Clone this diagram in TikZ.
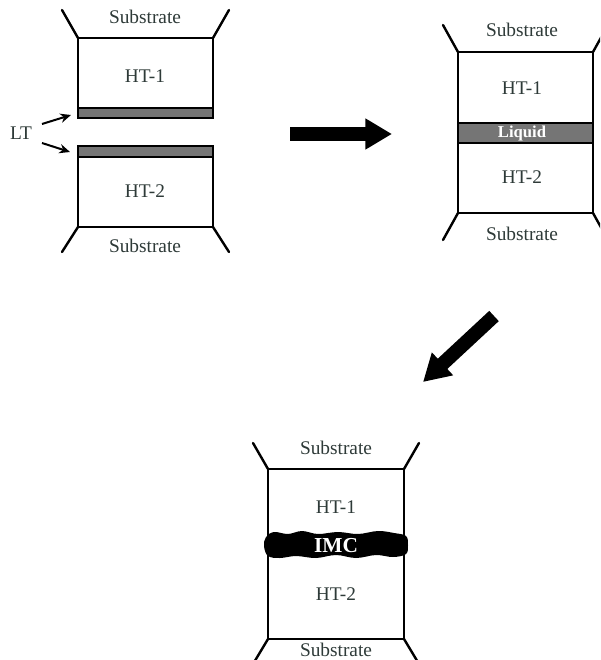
\documentclass[tikz,border=0pt]{standalone}
\usepackage{fontspec}
\setmainfont{Liberation Serif}
\usetikzlibrary{arrows.meta}
\definecolor{txt}{HTML}{2E3A38}
\definecolor{bargray}{HTML}{757575}
\begin{document}
\begin{tikzpicture}[x=0.75pt,y=-0.75pt,
  lbl/.style={font=\fontsize{14.5}{16}\selectfont, text=txt, inner sep=0pt},
  frame/.style={draw=black, line width=1.8pt},
  leg/.style={draw=black, line width=1.8pt, line cap=round},
  barfill/.style={fill=bargray, draw=black, line width=1.4pt},
  ltarrow/.style={draw=black, line width=1.5pt, -{Stealth[length=8pt,width=7pt]}},
  bigarrow/.style={draw=black, line width=10.5pt, -{Triangle[length=20pt,width=22pt]}}]
\clip (0,0) rectangle (600,660);
\fill[white] (0,0) rectangle (600,660);

% ---------- left diagram ----------
\draw[frame] (78,38) rectangle (213,108);
\draw[barfill] (78,108) rectangle (213,118);
\draw[frame] (78,157) rectangle (213,227);
\draw[barfill] (78,146) rectangle (213,157);
\coordinate (bar1) at (71,115);
\coordinate (bar2) at (70,152);
\draw[leg] (78,38) -- (62,10);
\draw[leg] (213,38) -- (229,10);
\draw[leg] (78,227) -- (62,252);
\draw[leg] (213,227) -- (229,252);
\node[lbl] (lsub1) at (145,17) {Substrate};
\node[lbl] (lht1) at (145,76) {HT-1};
\node[lbl] (lht2) at (145,191) {HT-2};
\node[lbl] (lsub2) at (145,246) {Substrate};
\node[lbl] (lt) at (21,133) {LT};
\coordinate (lta) at (42,124);
\coordinate (ltb) at (42,143);
\draw[ltarrow] (lta) -- (bar1);
\draw[ltarrow] (ltb) -- (bar2);

% ---------- right diagram ----------
\draw[frame] (458,52) rectangle (593,213);
\draw[barfill] (458,123) rectangle (593,143);
\draw[leg] (458,52) -- (443,25);
\draw[leg] (593,52) -- (608,25);
\draw[leg] (458,213) -- (443,240);
\draw[leg] (593,213) -- (608,240);
\node[lbl] (rsub1) at (522,30) {Substrate};
\node[lbl] (rht1) at (522,88) {HT-1};
\node[font=\fontsize{12.5}{14}\selectfont\bfseries, text=white, inner sep=0pt] (liq) at (522,133) {Liquid};
\node[lbl] (rht2) at (522,177) {HT-2};
\node[lbl] (rsub2) at (522,234) {Substrate};

% ---------- bottom diagram ----------
\draw[frame] (268,469) rectangle (404,639);
\draw[leg] (268,469) -- (253,443);
\draw[leg] (404,469) -- (419,443);
\draw[leg] (268,639) -- (253,664);
\draw[leg] (404,639) -- (419,664);
\fill[black] plot[smooth cycle, tension=0.6] coordinates {(266,537) (274,532) (288,534) (302,531) (318,534) (338,532) (358,534) (378,531) (394,533) (406,536) (408,545) (406,554) (393,557) (376,555) (356,558) (336,555) (316,558) (296,556) (280,558) (268,556) (264,546)};
\node[lbl] (bsub1) at (336,448) {Substrate};
\node[lbl] (bht1) at (336,507) {HT-1};
\node[font=\fontsize{16}{18}\selectfont\bfseries, text=white, inner sep=0pt] (imc) at (336,546) {IMC};
\node[lbl] (bht2) at (336,594) {HT-2};
\node[lbl] (bsub2) at (336,650) {Substrate};

% ---------- process arrows ----------
\coordinate (a1s) at (290,134);
\coordinate (a1e) at (392,134);
\draw[bigarrow] (a1s) -- (a1e);
\coordinate (a2s) at (494,316);
\coordinate (a2e) at (423,382);
\draw[bigarrow] (a2s) -- (a2e);
\end{tikzpicture}
\end{document}
